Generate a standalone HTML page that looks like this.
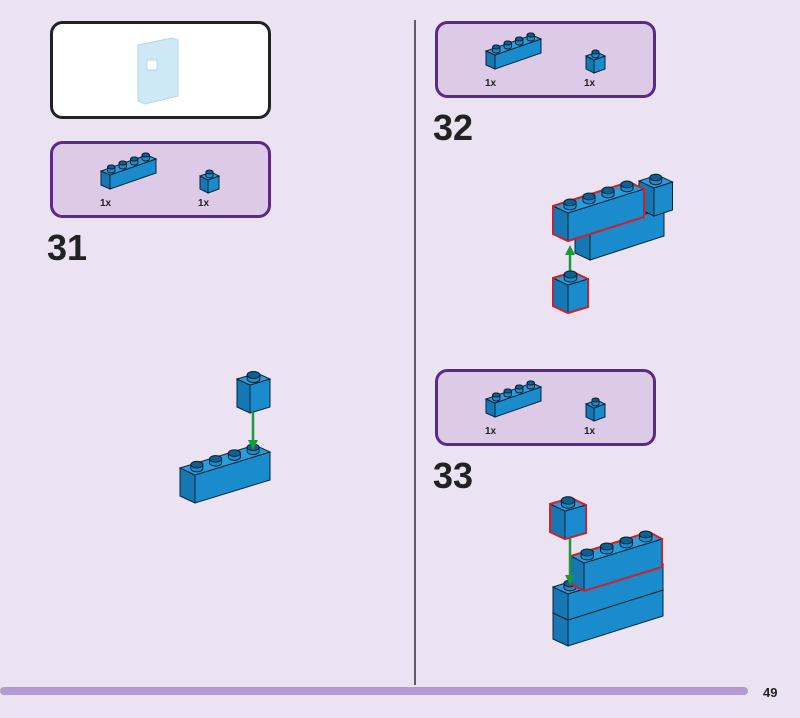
<!DOCTYPE html>
<html><head><meta charset="utf-8"><style>
html,body{margin:0;padding:0;background:#ebe2f2;}
svg{display:block}
text{font-family:"Liberation Sans",sans-serif;}
</style></head><body>
<svg id="s" width="800" height="718" viewBox="0 0 800 718" xmlns="http://www.w3.org/2000/svg">
<rect width="800" height="718" fill="#ebe2f2"/>
<rect x="51.5" y="22.5" width="218" height="95" rx="11" fill="#fff" stroke="#222" stroke-width="3"/>
<g fill="#cfe8f5" stroke="#b5d8ec" stroke-width="1">
<polygon points="138,45 172,38 178,40 178,96 145,104 138,101"/>
<rect x="147" y="60" width="10" height="10" fill="#fff"/>
</g>
<rect x="51.5" y="142.5" width="218" height="74" rx="11" fill="#dccae7" stroke="#5a2a8a" stroke-width="3"/>
<rect x="436.5" y="22.5" width="218" height="74" rx="11" fill="#dccae7" stroke="#5a2a8a" stroke-width="3"/>
<rect x="436.5" y="370.5" width="218" height="74" rx="11" fill="#dccae7" stroke="#5a2a8a" stroke-width="3"/>
<g font-size="10" font-weight="bold" fill="#222">
<text x="100" y="206">1x</text><text x="198" y="206">1x</text>
<text x="485" y="86">1x</text><text x="584" y="86">1x</text>
<text x="485" y="434">1x</text><text x="584" y="434">1x</text>
</g>
<g font-size="36" font-weight="bold" fill="#222">
<text x="47" y="260">31</text><text x="433" y="140">32</text><text x="433" y="488">33</text>
</g>
<line x1="415" y1="20" x2="415" y2="685" stroke="#333" stroke-width="1.5"/>
<rect x="0" y="687" width="748" height="8" rx="4" fill="#b39ad3"/>
<text x="763" y="697" font-size="13" font-weight="bold" fill="#222">49</text>
<g id="b"></g>
</svg>
<script>
var g=document.getElementById('b'),NS='http://www.w3.org/2000/svg';
function el(t,a){var e=document.createElementNS(NS,t);for(var k in a)e.setAttribute(k,a[k]);g.appendChild(e);return e;}
function P(a){return a.map(function(p){return p[0].toFixed(1)+','+p[1].toFixed(1)}).join(' ');}
function brick(x,y,n,m,L,D,h,red){
 var a=[x,y],b=[x+n*L[0],y+n*L[1]],c=[b[0]+m*D[0],b[1]+m*D[1]],d=[x+m*D[0],y+m*D[1]];
 var st='#0a2438';
 el('polygon',{points:P([a,b,[b[0],b[1]+h],[a[0],a[1]+h]]),fill:'#1a8bcd',stroke:st,'stroke-width':1});
 el('polygon',{points:P([d,a,[a[0],a[1]+h],[d[0],d[1]+h]]),fill:'#1677b3',stroke:st,'stroke-width':1});
 el('polygon',{points:P([a,b,c,d]),fill:'#2a9cda',stroke:st,'stroke-width':1});
 if(red)el('polygon',{points:P([d,c,b,[b[0],b[1]+h],[a[0],a[1]+h],[d[0],d[1]+h]]),fill:'none',stroke:'#d0202a','stroke-width':2});
 var r=Math.abs(L[0])*0.32;
 for(var j=m-1;j>=0;j--)for(var i=0;i<n;i++){
  var cx=x+(i+.5)*L[0]+(j+.5)*D[0],cy=y+(i+.5)*L[1]+(j+.5)*D[1];
  el('path',{d:'M'+(cx-r)+','+cy+'v-4a'+r+','+(r*.55)+' 0 0 1 '+(2*r)+',0v4a'+r+','+(r*.55)+' 0 0 1 '+(-2*r)+',0z',fill:'#1a8bcd',stroke:st,'stroke-width':1});
  el('ellipse',{cx:cx,cy:cy-4,rx:r,ry:r*.55,fill:'#0f5f90',stroke:st,'stroke-width':1});
 }
}
function arrow(x,y1,y2){
 el('line',{x1:x,y1:y1,x2:x,y2:y2+(y2>y1?-8:8),stroke:'#1a9a3a','stroke-width':2.5});
 var s=y2>y1?-1:1;
 el('polygon',{points:P([[x,y2],[x-5,y2+10*s],[x+5,y2+10*s]]),fill:'#1a9a3a'});
}
brick(110,175,4,1,[11.5,-4],[-9,-4],14);
brick(208,180,1,1,[11,-4],[-8,-4],13);
brick(495,55,4,1,[11.5,-4],[-9,-4],14);
brick(594,60,1,1,[11,-4],[-8,-4],13);
brick(495,403,4,1,[11.5,-4],[-9,-4],14);
brick(594,408,1,1,[11,-4],[-8,-4],13);
brick(195,475,4,1,[18.75,-5.75],[-15,-7],28);
brick(250,385,1,1,[20,-6],[-13,-6],28);
arrow(253,412,450);
brick(590,232,4,1,[18.5,-6],[-15,-7],28);
brick(654,188,1,1,[18.5,-6],[-15,-7],28);
brick(568,213,4,1,[19,-6],[-15,-7],28,true);
arrow(570,275,245);
brick(568,285,1,1,[20,-6],[-15,-7],28,true);
brick(568,620,5,1,[19,-6],[-15,-7],26);
brick(568,594,5,1,[19,-6],[-15,-7],26);
brick(584,563,4,1,[19.5,-6],[-13,-7],28,true);
arrow(570,538,585);
brick(565,511,1,1,[21,-6],[-15,-7],28,true);
</script>
</body></html>
